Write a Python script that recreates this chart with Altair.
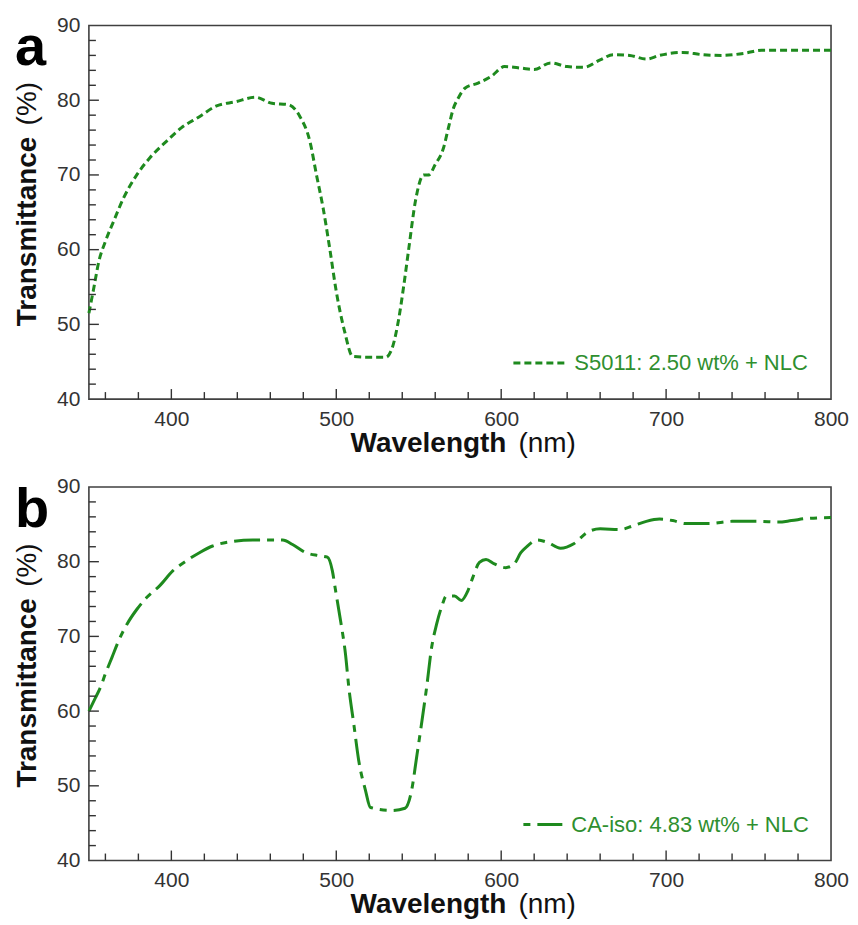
import altair as alt
import pandas as pd

# ---- data ----
wl_a = [350, 353, 356, 360, 365, 371, 379, 387, 397, 406, 417, 427, 439, 451, 461, 471,
        478, 484, 488, 492, 496, 500, 505, 510, 520, 530, 534, 538, 541, 544, 548, 553,
        556, 560, 565, 568, 571, 574, 578, 586, 594, 602, 612, 620, 630, 640, 650, 660,
        668, 678, 688, 696, 710, 722, 734, 748, 758, 776, 800]
t_a = [51.5, 54.9, 58.4, 61.1, 63.8, 66.9, 70.0, 72.3, 74.5, 76.3, 77.8, 79.2, 79.8, 80.4, 79.6, 79.4,
       77.8, 74.5, 70.0, 65.6, 60.2, 54.4, 49.1, 45.7, 45.6, 45.6, 46.9, 50.9, 55.3, 60.2, 66.5, 70.0,
       70.0, 71.4, 73.6, 76.3, 78.9, 80.3, 81.6, 82.3, 83.2, 84.5, 84.3, 84.1, 85.0, 84.5, 84.4, 85.4,
       86.1, 86.0, 85.5, 86.0, 86.4, 86.1, 86.0, 86.3, 86.7, 86.7, 86.7]

wl_b = [350, 354, 357, 360, 364, 368, 373, 379, 385, 393, 401, 409, 417, 425, 437, 449.5,
        467.5, 473.5, 481.6, 489.6, 494.6, 497.6, 499.6, 502.6, 505.6, 507.6, 510.6, 513.6,
        517.7, 520.7, 533.7, 541.7, 545.7, 548.7, 551.7, 554.8, 557.8, 560.8, 563.8, 566.8,
        571.8, 575.8, 579.8, 582.8, 586.8, 590.8, 595.9, 602.8, 607.9, 611.9, 615.9, 622,
        628, 636, 644, 652, 660, 672, 680, 688, 696, 704, 712, 726, 740, 756, 768, 776, 786, 800]
t_b = [60.0, 61.8, 63.2, 65.0, 67.2, 69.4, 71.6, 73.6, 75.2, 76.8, 78.8, 80.1, 81.2, 82.1, 82.7, 82.9,
       82.9, 82.3, 81.2, 80.8, 80.6, 78.8, 76.1, 72.1, 67.6, 63.2, 58.3, 53.4,
       49.4, 47.1, 46.7, 47.0, 49.4, 53.8, 58.3, 63.2, 68.5, 71.6, 73.9, 75.4,
       75.4, 74.8, 76.1, 77.9, 79.9, 80.3, 79.7, 79.2, 79.7, 81.2, 82.1, 82.9,
       82.6, 81.8, 82.4, 83.9, 84.4, 84.3, 84.8, 85.4, 85.7, 85.5, 85.1, 85.1, 85.4, 85.4, 85.3, 85.5, 85.8, 85.9]

x_labels = [400, 500, 600, 700, 800]
y_labels = [40, 50, 60, 70, 80, 90]
x_major_ticks = [400, 500, 600, 700]
x_minor_ticks = [360, 380, 420, 440, 460, 480, 520, 540, 560, 580, 620, 640, 660, 680, 720, 740, 760, 780]
y_major_ticks = [50, 60, 70, 80]
y_minor_ticks = [42, 44, 46, 48, 52, 54, 56, 58, 62, 64, 66, 68, 72, 74, 76, 78, 82, 84, 86, 88]

legend_a = "S5011: 2.50 wt% + NLC"
legend_b = "CA-iso: 4.83 wt% + NLC"

W, H = 743, 374
GREEN = "#1e8a1e"
LEG_TXT = "#2f8f2f"
AX = "#333333"
FONT = "Liberation Sans"

x_scale = alt.Scale(domain=[350, 800], nice=False, zero=False)
y_scale = alt.Scale(domain=[40, 90], nice=False, zero=False)
x_axis = alt.Axis(values=x_labels, ticks=False, domain=False, grid=False, title=None, labelFlush=False,
                  labelFontSize=21, labelPadding=9, labelColor=AX, labelFont=FONT)
y_axis = alt.Axis(values=y_labels, ticks=False, domain=False, grid=False, title=None,
                  labelFontSize=21, labelPadding=9, labelColor=AX, labelFont=FONT)


def one():
    return pd.DataFrame({"k": [0]})


def panel(wl, t, dash, legend_text, letter, leg_x1, leg_x2, txt_x, dash_offset=0):
    df = pd.DataFrame({"wl": wl, "t": t})
    line = alt.Chart(df).mark_line(color=GREEN, strokeWidth=3, strokeDash=dash,
                                   interpolate="monotone").encode(
        x=alt.X("wl:Q", scale=x_scale, axis=x_axis),
        y=alt.Y("t:Q", scale=y_scale, axis=y_axis),
    )
    xmaj = alt.Chart(pd.DataFrame({"wl": x_major_ticks})).mark_tick(
        color=AX, thickness=1.4, size=10, orient="vertical", opacity=1).encode(
        x=alt.X("wl:Q", scale=x_scale, axis=x_axis), y=alt.value(H - 5))
    xmin = alt.Chart(pd.DataFrame({"wl": x_minor_ticks})).mark_tick(
        color=AX, thickness=1.4, size=7, orient="vertical", opacity=1).encode(
        x=alt.X("wl:Q", scale=x_scale, axis=x_axis), y=alt.value(H - 3.5))
    ymaj = alt.Chart(pd.DataFrame({"t": y_major_ticks})).mark_tick(
        color=AX, thickness=1.4, size=10, orient="horizontal", opacity=1).encode(
        y=alt.Y("t:Q", scale=y_scale, axis=y_axis), x=alt.value(5))
    ymin = alt.Chart(pd.DataFrame({"t": y_minor_ticks})).mark_tick(
        color=AX, thickness=1.4, size=7, orient="horizontal", opacity=1).encode(
        y=alt.Y("t:Q", scale=y_scale, axis=y_axis), x=alt.value(3.5))

    leg_line = alt.Chart(one()).mark_rule(color=GREEN, strokeWidth=3, strokeDash=dash,
                                          strokeDashOffset=dash_offset).encode(
        x=alt.value(leg_x1), x2=alt.value(leg_x2), y=alt.value(338))
    leg_txt = alt.Chart(one()).mark_text(align="left", baseline="middle", font=FONT, fontSize=22,
                                         color=LEG_TXT, text=legend_text).encode(
        x=alt.value(txt_x), y=alt.value(338))

    xt1 = alt.Chart(one()).mark_text(align="left", baseline="alphabetic", font=FONT, fontSize=28,
                                     fontWeight="bold", color="#111111", text="Wavelength").encode(
        x=alt.value(262), y=alt.value(427))
    xt2 = alt.Chart(one()).mark_text(align="left", baseline="alphabetic", font=FONT, fontSize=28,
                                     color="#111111", text="(nm)").encode(
        x=alt.value(430), y=alt.value(427))
    yt1 = alt.Chart(one()).mark_text(align="left", baseline="middle", font=FONT, fontSize=28,
                                     fontWeight="bold", angle=270, color="#111111",
                                     text="Transmittance").encode(
        x=alt.value(-61), y=alt.value(301))
    yt2 = alt.Chart(one()).mark_text(align="left", baseline="middle", font=FONT, fontSize=28,
                                     angle=270, color="#111111", text="(%)").encode(
        x=alt.value(-61), y=alt.value(100))
    let = alt.Chart(one()).mark_text(align="left", baseline="alphabetic", font=FONT, fontSize=56,
                                     fontWeight="bold", color="#000000", text=letter).encode(
        x=alt.value(-74), y=alt.value(40))

    return alt.layer(line, xmaj, xmin, ymaj, ymin, leg_line, leg_txt, xt1, xt2, yt1, yt2, let).properties(
        width=W, height=H)


top = panel(wl_a, t_a, [7, 4], legend_a, "a", 425, 480, 486)
bottom = panel(wl_b, t_b, [26, 7, 7, 7], legend_b, "b", 435, 474, 483, dash_offset=33)

chart = alt.vconcat(top, bottom, spacing=88, bounds="flush").properties(
    padding={"left": 5, "top": 5, "right": 0, "bottom": 0}
).configure_view(stroke="#404040", strokeWidth=1.6)

chart.save("out.html", embed_options={"renderer": "svg", "actions": False})
